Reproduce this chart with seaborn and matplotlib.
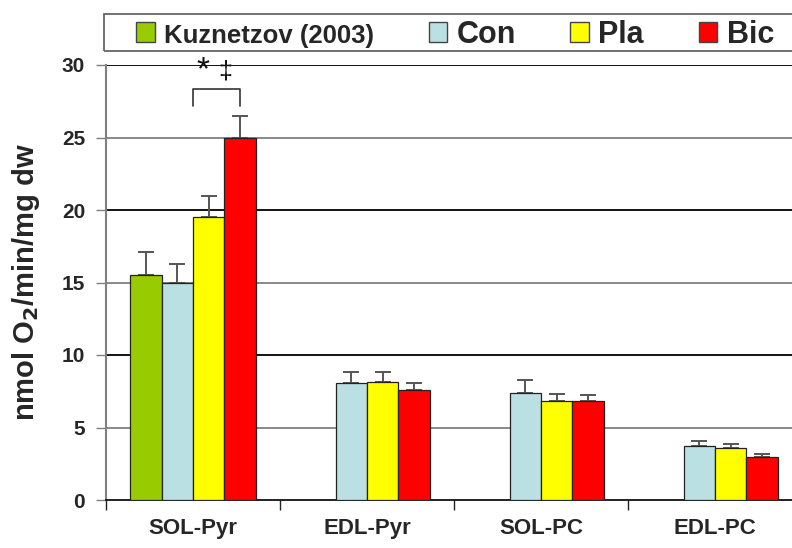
import matplotlib
matplotlib.use("Agg")
import matplotlib.pyplot as plt
from matplotlib.patches import Rectangle
import seaborn as sns
import pandas as pd
import numpy as np

categories = ["SOL-Pyr", "EDL-Pyr", "SOL-PC", "EDL-PC"]
groups = ["Kuznetzov (2003)", "Con", "Pla", "Bic"]
kuz_vals = [15.5]
kuz_err = [1.6]
con_vals = [15.0, 8.05, 7.4, 3.7]
con_err = [1.3, 0.75, 0.85, 0.4]
pla_vals = [19.5, 8.15, 6.8, 3.6]
pla_err = [1.5, 0.7, 0.5, 0.25]
bic_vals = [25.0, 7.6, 6.85, 2.97]
bic_err = [1.5, 0.45, 0.4, 0.2]
colors = ["#99CC00", "#BBE0E3", "#FFFF00", "#FF0000"]
yticks = [0, 5, 10, 15, 20, 25, 30]

rows = []
rows.append(dict(cat=categories[0], grp=groups[0], val=kuz_vals[0], err=kuz_err[0]))
for g, vals, errs in [(groups[1], con_vals, con_err), (groups[2], pla_vals, pla_err), (groups[3], bic_vals, bic_err)]:
    for c, v, e in zip(categories, vals, errs):
        rows.append(dict(cat=c, grp=g, val=v, err=e))
df = pd.DataFrame(rows)

sns.set_theme(style="white")
plt.rcParams['font.family'] = ['Liberation Sans', 'DejaVu Sans']

fig = plt.figure(figsize=(7.92, 5.48), dpi=100)
ax = fig.add_axes([106/792, 48/548, 696/792, 435/548])

sns.barplot(data=df, x="cat", y="val", hue="grp", order=categories, hue_order=groups,
            palette=colors, width=0.724, errorbar=None, edgecolor="#222222", linewidth=0.9,
            ax=ax, legend=False, saturation=1, zorder=3)

# error bars (upper only)
for cont, g in zip(ax.containers, groups):
    present = [c for c in categories if c in set(df[df.grp == g].cat)]
    sub = df[df.grp == g].set_index("cat").reindex(present)
    xs = [b.get_x() + b.get_width() / 2 for b in cont]
    hs = [b.get_height() for b in cont]
    ax.errorbar(xs, hs, yerr=[np.zeros(len(hs)), sub["err"].values], fmt="none",
                ecolor="#555555", elinewidth=1.4, capsize=6, capthick=1.4, zorder=2)

ax.set_ylim(0, 30)
ax.set_xlim(-0.5, 3.5)
ax.set_yticks(yticks)
ax.set_yticklabels([str(t) for t in yticks], fontsize=15, fontweight="bold")
for i, t in enumerate(yticks[1:]):
    ax.axhline(t, color="#000000" if i % 2 == 1 else "#808080", lw=1.3, zorder=1)

ax.set_xticks(range(len(categories)))
ax.set_xticklabels(categories, fontsize=16, fontweight="bold")
ax.set_xticks([-0.5, 0.5, 1.5, 2.5], minor=True)
ax.tick_params(axis="x", which="major", length=0, pad=13)
ax.tick_params(axis="x", which="minor", length=7, width=1, color="#222222", direction="out", bottom=True)
ax.tick_params(axis="y", length=7, width=1, color="#808080", direction="out", left=True, pad=8)
ax.set_xlabel("")
ax.set_ylabel("nmol O$_\\mathbf{2}$/min/mg dw", fontsize=21, fontweight="bold", labelpad=14)

for s in ["top", "right"]:
    ax.spines[s].set_visible(False)
ax.spines["left"].set_color("#808080")
ax.spines["left"].set_linewidth(1.5)
ax.spines["bottom"].set_color("#111111")
ax.spines["bottom"].set_linewidth(1.3)

# significance bracket between Pla and Bic in SOL-Pyr
pla_bar = ax.containers[2][0]
bic_bar = ax.containers[3][0]
x0 = pla_bar.get_x()
x1 = bic_bar.get_x() + bic_bar.get_width() / 2
ax.plot([x0, x0, x1, x1], [27.2, 28.35, 28.35, 27.2], color="#333333", lw=1.2, clip_on=False, zorder=4)
ax.text(x0 + 0.06, 28.55, "*", fontsize=24, ha="center", va="bottom", color="#111111")
ax.text(x0 + 0.185, 28.75, "\u2021", fontsize=18, ha="center", va="bottom", color="#111111")

# legend
handles = [Rectangle((0, 0), 1, 1, facecolor=c, edgecolor="#444444", lw=1.0) for c in colors]
leg = fig.legend(handles, groups, loc="center left", bbox_to_anchor=(136/792, 1 - 35/548),
                 ncol=4, frameon=False, handlelength=0.62, handleheight=0.62,
                 handletextpad=0.3, columnspacing=1.78, borderpad=0, borderaxespad=0,
                 prop=dict(size=22, weight="bold"))
t0 = leg.get_texts()[0]
t0.set_fontsize(18.5)
fig.add_artist(Rectangle((104/792, 1 - 51/548), 700/792, 37/548, transform=fig.transFigure,
                         fill=False, edgecolor="#666666", lw=1.3))

fig.savefig("out.png", dpi=100)
